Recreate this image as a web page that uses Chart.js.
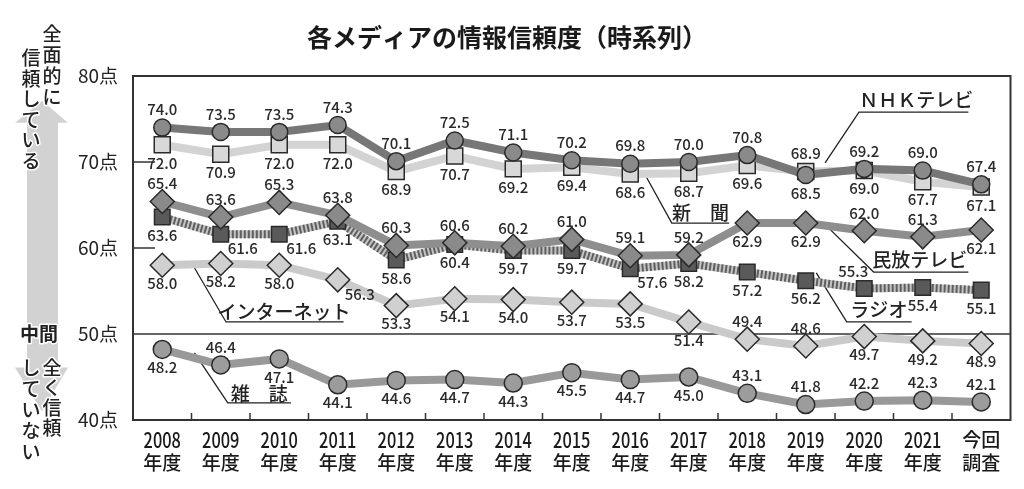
<!DOCTYPE html>
<html lang="ja">
<head>
<meta charset="utf-8">
<title>各メディアの情報信頼度（時系列）</title>
<script src="https://cdn.jsdelivr.net/npm/chart.js@4.4.1/dist/chart.umd.min.js"></script>
<style>
  html, body { margin: 0; padding: 0; background: #fff; }
  canvas { display: block; }
</style>
</head>
<body>
<canvas id="trustChart" width="1024" height="489"></canvas>
<script>
// 年度
const years = ['2008', '2009', '2010', '2011', '2012', '2013', '2014', '2015', '2016', '2017', '2018', '2019', '2020', '2021', '今回'];
const yearsSub = ['年度', '年度', '年度', '年度', '年度', '年度', '年度', '年度', '年度', '年度', '年度', '年度', '年度', '年度', '調査'];

// 各メディアの得点
const nhkTv = [74.0, 73.5, 73.5, 74.3, 70.1, 72.5, 71.1, 70.2, 69.8, 70.0, 70.8, 68.5, 69.2, 69.0, 67.4];
const newspaper = [72.0, 70.9, 72.0, 72.0, 68.9, 70.7, 69.2, 69.4, 68.6, 68.7, 69.6, 68.9, 69.0, 67.7, 67.1];
const minpoTv = [65.4, 63.6, 65.3, 63.8, 60.3, 60.6, 60.2, 61.0, 59.1, 59.2, 62.9, 62.9, 62.0, 61.3, 62.1];
const radio = [63.6, 61.6, 61.6, 63.1, 58.6, 60.4, 59.7, 59.7, 57.6, 58.2, 57.2, 56.2, 55.3, 55.4, 55.1];
const internet = [58.0, 58.2, 58.0, 56.3, 53.3, 54.1, 54.0, 53.7, 53.5, 51.4, 49.4, 48.6, 49.7, 49.2, 48.9];
const magazine = [48.2, 46.4, 47.1, 44.1, 44.6, 44.7, 44.3, 45.5, 44.7, 45.0, 43.1, 41.8, 42.2, 42.3, 42.1];

// 目盛
const yTicks = [40, 50, 60, 70, 80];

// 数値ラベルの置き場所 (a:上 b:下 br:右下 al:左上)
const labelPlace = {
    nhk:      ['a','a','a','a','a','a','a','a','a','a','a','b','a','a','a'],
    news:     ['b','b','b','b','b','b','b','b','b','b','b','a','b','b','b'],
    minpo:    ['a','a','a','a','a','a','a','a','a','a','b','b','a','a','b'],
    radio:    ['b','br','br','b','b','b','b','b','br','b','b','b','al','b','b'],
    internet: ['b','b','b','br','b','b','b','b','b','b','a','a','b','b','b'],
    magazine: ['b','a','b','b','b','b','b','b','b','b','a','a','a','a','a']
};

// 凡例の引き出し線 (x: カテゴリ位置, y: 点数)
const callouts = [
    { text: 'ＮＨＫテレビ', from: [11.33, 69.9], elbow: [11.91, 75.8], end: 13.78, at: [12.89, 77.2] },
    { text: '新　聞', from: [8.28, 68.2], elbow: [8.71, 62.9], end: 9.69, at: [9.2, 64.1] },
    { text: '民放テレビ', from: [11.35, 62.6], elbow: [12.16, 57.2], end: 13.78, at: [12.95, 58.6] },
    { text: 'ラジオ', from: [11.18, 57.1], elbow: [11.70, 51.4], end: 12.81, at: [12.25, 52.8] },
    { text: 'インターネット', from: [0.49, 58.4], elbow: [1.09, 51.4], end: 3.1, at: [2.08, 52.6] },
    { text: '雑　誌', from: [0.55, 47.8], elbow: [1.12, 42.0], end: 2.2, at: [1.66, 43.1] }
];

const JP = '"Noto Sans CJK JP", "Noto Sans", sans-serif';

const chartDecor = {
    id: 'chartDecor',
    beforeDatasetsDraw(chart) {
        const ctx = chart.ctx;
        const area = chart.chartArea;
        const x = chart.scales.x;
        const y = chart.scales.y;
        ctx.save();
        ctx.strokeStyle = '#333';
        // 50点の線
        ctx.lineWidth = 1.5;
        ctx.beginPath();
        ctx.moveTo(area.left, y.getPixelForValue(50));
        ctx.lineTo(area.right, y.getPixelForValue(50));
        ctx.stroke();
        // 左の短い目盛
        [60, 70].forEach(v => {
            ctx.beginPath();
            ctx.moveTo(area.left, y.getPixelForValue(v));
            ctx.lineTo(area.left + 22, y.getPixelForValue(v));
            ctx.stroke();
        });
        // 下の目盛
        for (let i = 0; i < years.length - 1; i++) {
            const px = (x.getPixelForValue(i) + x.getPixelForValue(i + 1)) / 2;
            ctx.beginPath();
            ctx.moveTo(px, area.bottom);
            ctx.lineTo(px, area.bottom - 7);
            ctx.stroke();
        }
        // 引き出し線
        ctx.lineWidth = 1.3;
        ctx.strokeStyle = '#222';
        callouts.forEach(c => {
            const fx = x.getPixelForValue(c.from[0]);
            const fy = y.getPixelForValue(c.from[1]);
            const ex = x.getPixelForValue(c.elbow[0]);
            const ey = y.getPixelForValue(c.elbow[1]);
            const rx = x.getPixelForValue(c.end);
            ctx.beginPath();
            ctx.moveTo(fx, fy);
            ctx.lineTo(ex, ey);
            ctx.lineTo(rx, ey);
            ctx.stroke();
        });
        // ラジオの線の下地
        const rmeta = chart.getDatasetMeta(3);
        ctx.strokeStyle = '#c4c4c4';
        ctx.lineWidth = 8;
        ctx.beginPath();
        rmeta.data.forEach((pt, i) => { if (i === 0) ctx.moveTo(pt.x, pt.y); else ctx.lineTo(pt.x, pt.y); });
        ctx.stroke();
        ctx.restore();
    },
    afterDatasetsDraw(chart) {
        const ctx = chart.ctx;
        const area = chart.chartArea;
        const x = chart.scales.x;
        const y = chart.scales.y;
        ctx.save();
        // 数値ラベル
        ctx.font = '500 15px ' + JP;
        ctx.fillStyle = '#2a2a2a';
        ctx.textAlign = 'center';
        ctx.textBaseline = 'middle';
        chart.data.datasets.forEach((ds, di) => {
            const meta = chart.getDatasetMeta(di);
            const places = labelPlace[ds.key];
            meta.data.forEach((pt, i) => {
                let dx = 0, dy = 18;
                if (places[i] === 'a') dy = -18;
                if (places[i] === 'br') { dx = 22; dy = 14; }
                if (places[i] === 'al') { dx = -11; dy = -17; }
                ctx.fillText(ds.data[i].toFixed(1), pt.x + dx, pt.y + dy);
            });
        });
        // 凡例テキスト
        ctx.font = '500 19px ' + JP;
        ctx.fillStyle = '#222';
        callouts.forEach(c => {
            ctx.fillText(c.text, x.getPixelForValue(c.at[0]), y.getPixelForValue(c.at[1]));
        });
        // 枠
        ctx.strokeStyle = '#333';
        ctx.lineWidth = 2;
        ctx.strokeRect(area.left, area.top, area.right - area.left, area.bottom - area.top);
        ctx.restore();
    },
    afterDraw(chart) {
        const ctx = chart.ctx;
        const x = chart.scales.x;
        const y = chart.scales.y;
        ctx.save();
        // タイトル
        ctx.fillStyle = '#1a1a1a';
        ctx.font = 'bold 25px ' + JP;
        ctx.textAlign = 'center';
        ctx.textBaseline = 'middle';
        ctx.fillText('各メディアの情報信頼度（時系列）', 507, 37);

        // 年度ラベル
        years.forEach((yr, i) => {
            const px = x.getPixelForValue(i);
            ctx.save();
            ctx.translate(px, 0);
            if (/^\d+$/.test(yr)) {
                ctx.font = '500 21px ' + JP;
                ctx.scale(0.78, 1);
            } else {
                ctx.font = '500 19px ' + JP;
            }
            ctx.fillText(yr, 0, 440);
            ctx.restore();
            ctx.font = '500 19px ' + JP;
            ctx.fillText(yearsSub[i], px, 463);
        });

        // 左の矢印
        const top = y.getPixelForValue(75.5);
        const bot = y.getPixelForValue(41);
        ctx.fillStyle = '#d2d2d2';
        ctx.beginPath();
        ctx.moveTo(42, top - 14);
        ctx.lineTo(68, top + 8);
        ctx.lineTo(58, top + 8);
        ctx.lineTo(58, bot - 44);
        ctx.lineTo(68, bot - 44);
        ctx.lineTo(42, bot);
        ctx.lineTo(15, bot - 44);
        ctx.lineTo(27, bot - 44);
        ctx.lineTo(27, top + 8);
        ctx.lineTo(15, top + 8);
        ctx.closePath();
        ctx.fill();

        // 縦書き
        ctx.font = '500 19px ' + JP;
        ctx.fillStyle = '#222';
        ctx.strokeStyle = '#fff';
        ctx.lineWidth = 3;
        ctx.lineJoin = 'round';
        const column = (text, cx, y0, step) => {
            [...text].forEach((ch, k) => {
                ctx.strokeText(ch, cx, y0 + k * step);
                ctx.fillText(ch, cx, y0 + k * step);
            });
        };
        column('全面的に', 52, 34, 21);
        column('信頼している', 31, 58, 20.5);
        column('全く信頼', 52, 368, 20);
        column('していない', 31, 368, 21);
        ctx.font = 'bold 19px ' + JP;
        ctx.strokeText('中間', 39, y.getPixelForValue(50));
        ctx.fillText('中間', 39, y.getPixelForValue(50));
        ctx.restore();
    }
};

const lineSet = (key, label, data, lineColor, pointColor, style, radius, extra) => Object.assign({
    key: key,
    label: label,
    data: data,
    borderColor: lineColor,
    borderWidth: 8,
    pointStyle: style,
    pointRadius: radius,
    pointBackgroundColor: pointColor,
    pointBorderColor: '#2a2a2a',
    pointBorderWidth: 1.5,
    tension: 0,
    fill: false
}, extra || {});

new Chart(document.getElementById('trustChart').getContext('2d'), {
    type: 'line',
    data: {
        labels: years,
        datasets: [
            lineSet('nhk', 'NHKテレビ', nhkTv, '#777777', '#8a8a8a', 'circle', 8.5),
            lineSet('news', '新聞', newspaper, '#d3d3d3', '#d8d8d8', 'rect', 11.3),
            lineSet('minpo', '民放テレビ', minpoTv, '#8e8e8e', '#8a8a8a', 'rectRot', 12),
            lineSet('radio', 'ラジオ', radio, '#5e5e5e', '#5a5a5a', 'rect', 11, { borderDash: [2, 2] }),
            lineSet('internet', 'インターネット', internet, '#cacaca', '#d0d0d0', 'rectRot', 12),
            lineSet('magazine', '雑誌', magazine, '#999999', '#9c9c9c', 'circle', 9)
        ]
    },
    options: {
        responsive: false,
        animation: false,
        layout: { padding: { top: 76, right: 12, bottom: 0, left: 0 } },
        plugins: {
            legend: { display: false },
            tooltip: { enabled: false },
            title: { display: false }
        },
        scales: {
            x: {
                offset: true,
                grid: { display: false, drawTicks: false },
                border: { display: false },
                ticks: { display: false },
                afterFit: s => { s.height = 69; }
            },
            y: {
                min: 40,
                max: 80,
                afterBuildTicks: s => { s.ticks = yTicks.map(v => ({ value: v })); },
                grid: { display: false, drawTicks: false },
                border: { display: false },
                ticks: {
                    padding: 15,
                    color: '#222',
                    font: { family: '"Noto Sans CJK JP", sans-serif', size: 19 },
                    callback: v => v + '点'
                },
                afterFit: s => { s.width = 133; }
            }
        }
    },
    plugins: [chartDecor]
});
</script>
</body>
</html>
